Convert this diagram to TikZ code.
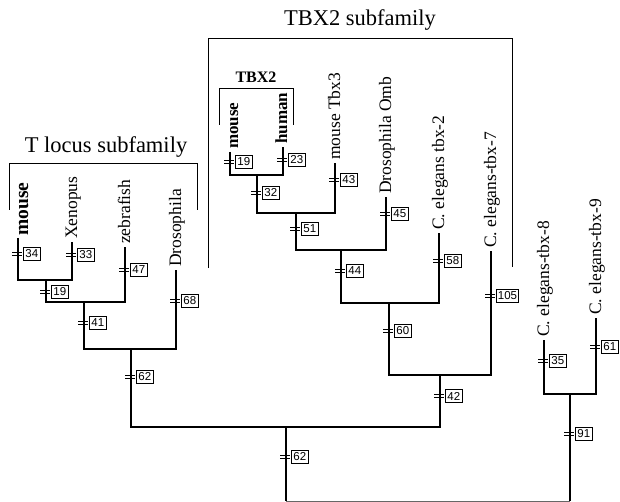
\documentclass[tikz,border=0pt]{standalone}
\usepackage{fontspec}
\setmainfont{Liberation Serif}
\setsansfont{Liberation Sans}
\usetikzlibrary{positioning}

\begin{document}
\begin{tikzpicture}[
		x=1pt, y=-1pt,
		branch/.style={line width=2.6pt, line join=miter},
		bracket/.style={line width=0.8pt},
		tick/.style={line width=0.8pt},
		leaf/.style={rotate=90, anchor=base west, inner sep=0pt,
			font=\fontsize{17.5}{17.5}\selectfont},
		boldleaf/.style={leaf, font=\fontsize{17}{17}\selectfont\bfseries},
		family/.style={anchor=base, inner sep=0pt,
			font=\fontsize{22.5}{22.5}\selectfont},
		blab/.style={draw, line width=0.7pt, anchor=west, inner sep=1.5pt,
			minimum height=13pt, minimum width=17pt, font=\fontsize{11.5}{11.5}\sffamily}
		]
		\useasboundingbox (0,0) rectangle (620,502);
		
		\coordinate (tMouse) at (18,238);
		\coordinate (tXen)   at (72,242);
		\coordinate (tZeb)   at (125,247);
		\coordinate (tDros)  at (176,270);
		\coordinate (n19)    at (46,280);
		\coordinate (n41)    at (84,302);
		\coordinate (n62a)   at (131,349);
		
		\coordinate (tMouse2) at (230,152);
		\coordinate (tHum)    at (283,147);
		\coordinate (tTbx3)   at (335,163);
		\coordinate (tOmb)    at (386,197);
		\coordinate (tTbx2)   at (439,233);
		\coordinate (tTbx7)   at (491,251);
		\coordinate (n32)     at (257,175);
		\coordinate (n51)     at (296,213);
		\coordinate (n44)     at (341,250);
		\coordinate (n60)     at (389,303);
		\coordinate (n42)     at (440,375);
		
		\coordinate (tTbx8) at (544,340);
		\coordinate (tTbx9) at (596,318);
		\coordinate (n91)   at (570,394);
		
		\coordinate (nRoot) at (286,427);
		\coordinate (bL) at (286,501);
		\coordinate (bR) at (570,501);
		
		\node[family] (tlocus) at (106,153) {T locus subfamily};
		\node[family] (tbxfam) at (360,26) {TBX2 subfamily};
		\node[family, font=\fontsize{16}{16}\selectfont\bfseries] (tbxhead) at (256,83) {TBX2};
		
		\draw[bracket] (9,210) |- (197,163) -- (197,210);
		\draw[bracket] (208,268) |- (512,38) -- (512,267);
		\draw[bracket] (219,125) |- (293,88) -- (293,125);
		
		\node[boldleaf, font=\fontsize{19.5}{19.5}\selectfont\bfseries] (lMouse) at (28,236) {mouse};
		\node[leaf] (lXen)  at (77,239) {Xenopus};
		\node[leaf] (lZeb)  at (130,244) {zebrafish};
		\node[leaf] (lDros) at (181,267) {Drosophila};
		\node[boldleaf] (lMouse2) at (238,149) {mouse};
		\node[boldleaf] (lHum)    at (287,144) {human};
		\node[leaf] (lTbx3) at (340,160) {mouse Tbx3};
		\node[leaf] (lOmb)  at (391,194) {Drosophila Omb};
		\node[leaf] (lTbx2) at (444,230) {C. elegans tbx-2};
		\node[leaf] (lTbx7) at (496,248) {C. elegans-tbx-7};
		\node[leaf] (lTbx8) at (549,337) {C. elegans-tbx-8};
		\node[leaf] (lTbx9) at (601,315) {C. elegans-tbx-9};
		
		\draw[branch] (tMouse) |- (n19) -| (tXen);
		\draw[branch] (n19) |- (n41) -| (tZeb);
		\draw[branch] (n41) |- (n62a) -| (tDros);
		\draw[branch] (tMouse2) |- (n32) -| (tHum);
		\draw[branch] (n32) |- (n51) -| (tTbx3);
		\draw[branch] (n51) |- (n44) -| (tOmb);
		\draw[branch] (n44) |- (n60) -| (tTbx2);
		\draw[branch] (n60) |- (n42) -| (tTbx7);
		\draw[branch] (n62a) |- (nRoot) -| (n42);
		\draw[branch] (tTbx8) |- (n91) -| (tTbx9);
		\draw[branch] (nRoot) -- (bL);
		\draw[branch] (n91) -- (bR);
		\draw[line width=0.8pt, black!60] (bL) -- (bR);
		
		\foreach \n/\x/\y/\t in {a34/18/254/34, a33/72/255/33, a47/125/270/47,
			a19/46/292/19, a41/84/323/41, a68/176/301/68, a62/131/377/62,
			r62/286/457/62, b19/230/162/19, b23/283/160/23, b43/335/180/43,
			b32/257/193/32, b51/296/229/51, b45/386/214/45, b44/341/271/44,
			b58/439/261/58, b60/389/331/60, b105/491/296/105, b42/440/396/42,
			c35/544/361/35, c61/596/347/61, c91/570/434/91}{
			\node[blab] (\n) at (\x+5,\y) {\t};
			\draw[tick] (\x-6,\y-1.6) -- (\x+4,\y-1.6) (\x-6,\y+1.6) -- (\x+4,\y+1.6);
		}
	\end{tikzpicture}
\end{document}
